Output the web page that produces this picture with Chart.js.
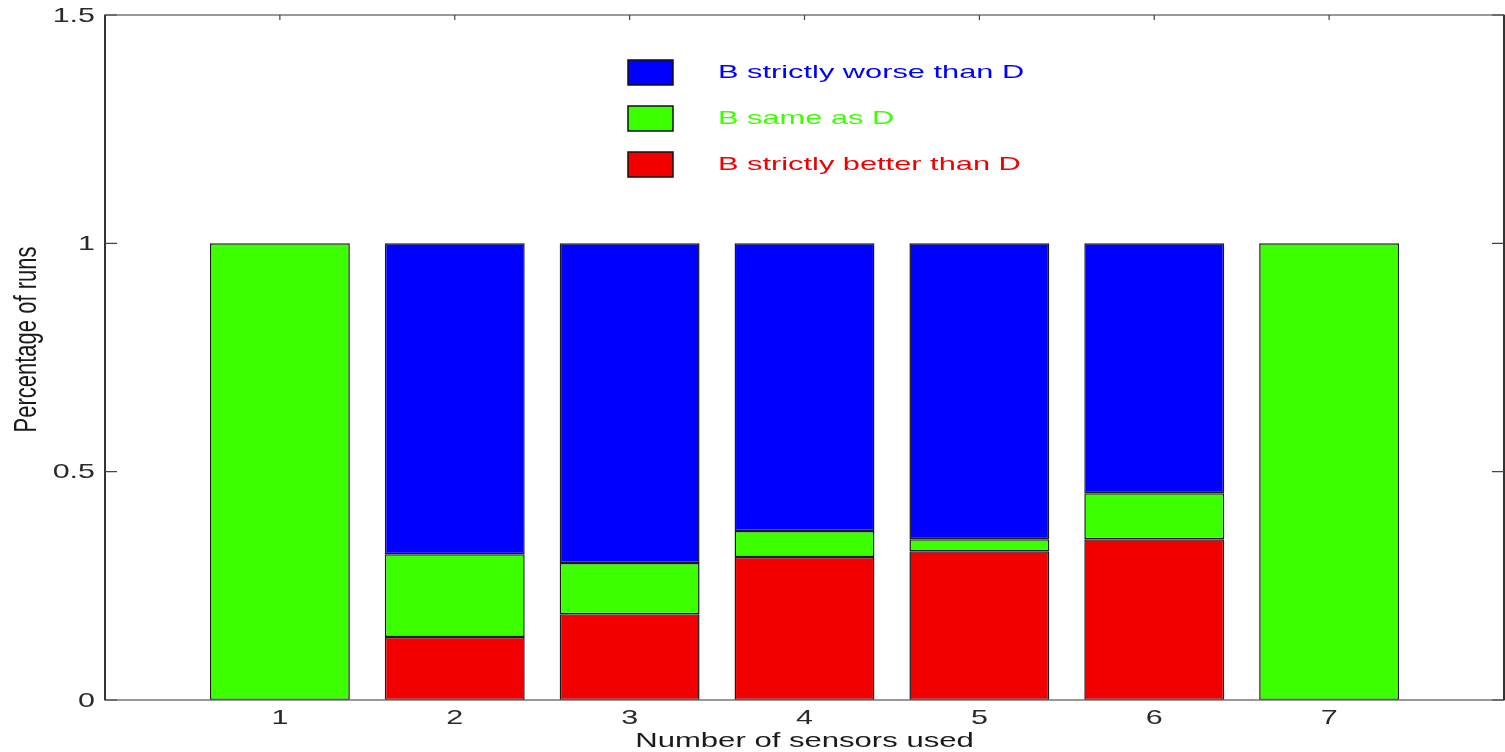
<!DOCTYPE html>
<html>
<head>
<meta charset="utf-8">
<script src="https://cdn.jsdelivr.net/npm/chart.js@4/dist/chart.umd.min.js"></script>
<style>
  html, body { margin: 0; padding: 0; background: #fff; }
  #wrap { width: 1505px; height: 752px; }
</style>
</head>
<body>
<div id="wrap"><canvas id="chart" width="1505" height="752"></canvas></div>
<script>
// values
var sensors = [1, 2, 3, 4, 5, 6, 7];
var better = [0, 0.138, 0.188, 0.313, 0.326, 0.352, 0];
var same = [1, 0.181, 0.112, 0.057, 0.026, 0.101, 1];
var worse = [0, 0.681, 0.700, 0.630, 0.648, 0.547, 0];
var yTicks = [0, 0.5, 1, 1.5];

var labels = ['B strictly better than D', 'B same as D', 'B strictly worse than D'];
var colors = ['#f20000', '#3cff00', '#0000ff'];
var xTitle = 'Number of sensors used';
var yTitle = 'Percentage of runs';

function points(values) {
    return sensors.map(function (s, i) {
        return { x: s, y: values[i] };
    });
}

var FONT = 'Liberation Sans, Arial, Helvetica, sans-serif';

// the source figure's text is stretched sideways, so draw it scaled
function wideText(ctx, text, x, y, align, size, color, sx, rotate) {
    ctx.save();
    ctx.translate(x, y);
    if (rotate) {
        ctx.rotate(-Math.PI / 2);
        ctx.scale(1, sx);
    } else {
        ctx.scale(sx, 1);
    }
    ctx.font = size + 'px ' + FONT;
    ctx.fillStyle = color;
    ctx.textAlign = align;
    ctx.textBaseline = 'middle';
    ctx.fillText(text, 0, 0);
    ctx.restore();
}

var framePlugin = {
    id: 'frame',
    afterDraw: function (chart) {
        var ctx = chart.ctx;
        var a = chart.chartArea;
        var xs = chart.scales.x, ys = chart.scales.y;
        ctx.save();
        ctx.strokeStyle = '#777';
        ctx.lineWidth = 1.5;
        ctx.strokeRect(a.left, a.top, a.right - a.left, a.bottom - a.top);
        ctx.strokeStyle = '#333';
        ctx.lineWidth = 2;
        ctx.beginPath();
        ctx.moveTo(a.left, a.top); ctx.lineTo(a.left, a.bottom);
        ctx.moveTo(a.right, a.top); ctx.lineTo(a.right, a.bottom);
        ctx.stroke();

        // inward ticks
        ctx.lineWidth = 1.2;
        ctx.strokeStyle = '#444';
        ctx.beginPath();
        yTicks.forEach(function (v) {
            var py = ys.getPixelForValue(v);
            ctx.moveTo(a.left, py); ctx.lineTo(a.left + 12, py);
            ctx.moveTo(a.right, py); ctx.lineTo(a.right - 12, py);
        });
        sensors.forEach(function (s) {
            var px = xs.getPixelForValue(s);
            ctx.moveTo(px, a.top); ctx.lineTo(px, a.top + 5);
        });
        ctx.stroke();

        // tick labels and axis titles
        yTicks.forEach(function (v) {
            wideText(ctx, String(v), a.left - 10, ys.getPixelForValue(v) + 1, 'right', 21, '#2a2a2a', 1.45);
        });
        sensors.forEach(function (s) {
            wideText(ctx, String(s), xs.getPixelForValue(s), a.bottom + 18, 'center', 21, '#2a2a2a', 1.45);
        });
        wideText(ctx, xTitle, (a.left + a.right) / 2, a.bottom + 41, 'center', 21, '#1a1a1a', 1.48);
        wideText(ctx, yTitle, 28, (a.top + a.bottom) / 2 - 18, 'center', 22, '#1a1a1a', 1.4, true);

        // legend, top entry first
        var lx = a.left + 523, ly = a.top + 45;
        for (var i = 0; i < 3; i++) {
            var k = 2 - i;
            var y = ly + i * 46;
            ctx.fillStyle = colors[k];
            ctx.fillRect(lx, y, 45, 25);
            ctx.strokeStyle = '#111';
            ctx.lineWidth = 1.5;
            ctx.strokeRect(lx, y, 45, 25);
            wideText(ctx, labels[k], lx + 90, y + 13, 'left', 19, colors[k], 1.62);
        }
        ctx.restore();
    }
};

var datasets = [better, same, worse].map(function (vals, i) {
    return {
        label: labels[i],
        data: points(vals),
        backgroundColor: colors[i],
        borderColor: '#1a1a1a',
        borderWidth: 1.5,
        borderSkipped: false,
        barPercentage: 0.8,
        categoryPercentage: 1
    };
});

new Chart(document.getElementById('chart'), {
    type: 'bar',
    data: { datasets: datasets },
    plugins: [framePlugin],
    options: {
        responsive: false,
        animation: false,
        layout: { padding: { top: 15, right: 1, left: 0, bottom: 0 } },
        plugins: {
            legend: { display: false },
            tooltip: { enabled: false }
        },
        scales: {
            x: {
                type: 'linear',
                stacked: true,
                offset: false,
                min: 0,
                max: 8,
                grid: { display: false },
                border: { display: false },
                ticks: { display: false },
                afterFit: function (scale) { scale.height = 52; }
            },
            y: {
                stacked: true,
                min: 0,
                max: 1.5,
                grid: { display: false },
                border: { display: false },
                ticks: { display: false },
                afterFit: function (scale) { scale.width = 105; }
            }
        }
    }
});
</script>
</body>
</html>
